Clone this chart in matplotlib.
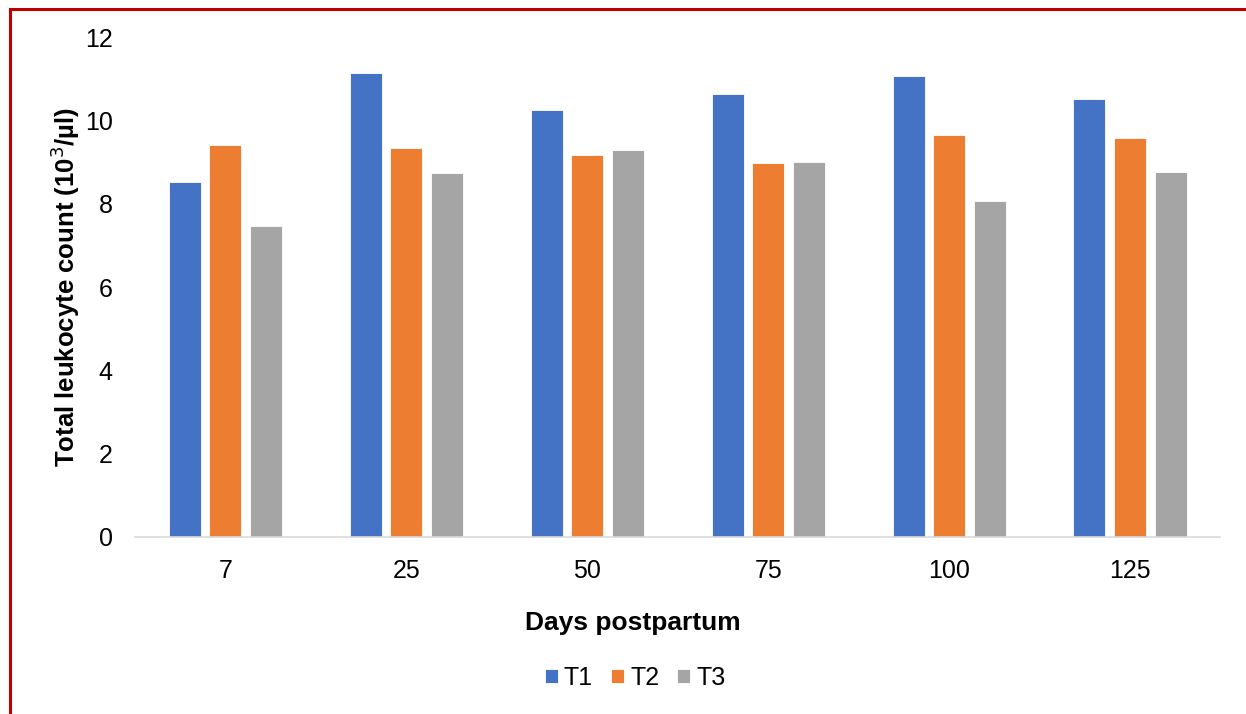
import numpy as np
import matplotlib.pyplot as plt
from matplotlib.lines import Line2D

plt.rcParams['font.family'] = ['Liberation Sans', 'DejaVu Sans']

days = ['7', '25', '50', '75', '100', '125']
t1 = [8.51, 11.13, 10.26, 10.64, 11.07, 10.51]
t2 = [9.40, 9.34, 9.16, 8.97, 9.65, 9.59]
t3 = [7.46, 8.73, 9.29, 9.01, 8.06, 8.75]
series = ['T1', 'T2', 'T3']
colors = ['#4472C4', '#ED7D31', '#A5A5A5']

fig = plt.figure(figsize=(12.46, 7.14), dpi=100)
ax = fig.add_axes([0.1083, 0.248, 0.8712, 0.700])

x = np.arange(len(days))
width = 0.177
offset = 0.224
for i, (vals, name, c) in enumerate(zip([t1, t2, t3], series, colors)):
    ax.bar(x + (i - 1) * offset, vals, width, color=c, label=name,
           edgecolor='white', linewidth=0.6)

ax.set_xlim(-0.5, len(days) - 0.5)
ax.set_ylim(0, 12)
ax.set_yticks(range(0, 13, 2))
ax.set_xticks(x)
ax.set_xticklabels(days)
ax.tick_params(axis='both', length=0, labelsize=18, colors='black')
ax.tick_params(axis='y', pad=16)
ax.tick_params(axis='x', pad=16)

for s in ['top', 'right', 'left']:
    ax.spines[s].set_visible(False)
ax.spines['bottom'].set_color('#d9d9d9')
ax.spines['bottom'].set_linewidth(1.2)

# x title and legend sit centred on the whole chart area, not the plot area
ax.set_xlabel('Days postpartum', fontsize=19, fontweight='bold')
ax.xaxis.set_label_coords(0.459, -0.149)
ax.set_ylabel('Total leukocyte count (10$^3$/µl)', fontsize=18.5,
              fontweight='bold', labelpad=2)

ax.legend(loc='center', bbox_to_anchor=(0.461, -0.282), ncol=3,
          frameon=False, fontsize=18, handlelength=0.52, handleheight=0.52,
          handletextpad=0.25, columnspacing=0.72)

# red frame around the figure
W, H = 1246, 714
fig.add_artist(Line2D([10 / W, 1], [1 - 9 / H, 1 - 9 / H], transform=fig.transFigure,
                      color='#C00000', linewidth=2.2))
fig.add_artist(Line2D([10 / W, 10 / W], [0, 1 - 9 / H], transform=fig.transFigure,
                      color='#C00000', linewidth=2.2))

fig.savefig('out.png', dpi=100)
